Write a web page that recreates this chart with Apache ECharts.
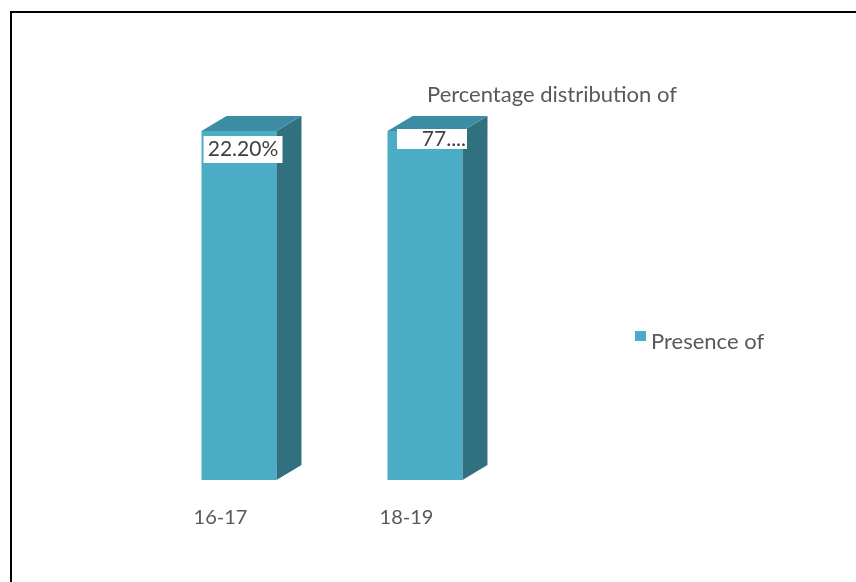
<!DOCTYPE html>
<html>
<head>
<meta charset="utf-8">
<script src="https://cdn.jsdelivr.net/npm/echarts@6/dist/echarts.min.js"></script>
<style>
html,body{margin:0;padding:0;background:#fff;}
#chart{width:856px;height:582px;}
</style>
</head>
<body>
<div id="chart"></div>
<script>
// ---- data ----
const categories = ['16-17', '18-19'];
const seriesName = 'Presence of';
const values = [22.2, 77.8];
const valueLabels = ['22.20%', '77....'];
const chartTitle = 'Percentage distribution of';
// value axis range (original axis max was below both values, so bars reach the top)
const Y_MIN = 0;
const Y_MAX = 20;

// ---- style ----
const FONT = 'Lato';
const FRONT = '#4BACC6';
const SIDE = '#31707F';
const TOP = '#3C8DA4';
const DEPTH_X = 25, DEPTH_Y = 15;
const labelBoxes = [
  {dx: 4, dy: 5, w: 79, h: 27, align: 'center'},
  {dx: 7, dy: -2, w: 70, h: 20, align: 'right'}
];

const chart = echarts.init(document.getElementById('chart'), null, {renderer: 'canvas'});

function renderItem(params, api) {
  const idx = api.value(0);
  const v = Math.min(api.value(1), Y_MAX);
  const base = api.coord([idx, Y_MIN]);
  const top = api.coord([idx, v]);
  const w = api.size([1, 0])[0] * 0.403;
  const cx = base[0];
  const x0 = cx - w / 2, x1 = cx + w / 2;
  const yb = base[1], yt = top[1];
  const lb = labelBoxes[params.dataIndex];
  const bx = cx + lb.dx - lb.w / 2;
  const by = yt + lb.dy;
  return {
    type: 'group',
    children: [
      {type: 'rect', shape: {x: x0, y: yt, width: w, height: yb - yt}, style: {fill: FRONT}},
      {type: 'polygon', shape: {points: [[x1, yb], [x1, yt], [x1 + DEPTH_X, yt - DEPTH_Y], [x1 + DEPTH_X, yb - DEPTH_Y]]}, style: {fill: SIDE}},
      {type: 'polygon', shape: {points: [[x0, yt], [x1, yt], [x1 + DEPTH_X, yt - DEPTH_Y], [x0 + DEPTH_X, yt - DEPTH_Y]]}, style: {fill: TOP}},
      {type: 'rect', shape: {x: bx, y: by, width: lb.w, height: lb.h}, style: {fill: '#ffffff'}},
      {type: 'text', style: {
        text: valueLabels[params.dataIndex],
        x: lb.align === 'right' ? bx + lb.w - 1 : bx + lb.w / 2,
        y: by + lb.h / 2,
        align: lb.align, verticalAlign: 'middle',
        font: '21px ' + FONT, fill: '#404040'
      }}
    ]
  };
}

chart.setOption({
  animation: false,
  backgroundColor: '#ffffff',
  title: {
    text: chartTitle,
    left: 422, top: 79,
    textStyle: {fontFamily: FONT, fontSize: 22, fontWeight: 'normal', color: '#595959'}
  },
  legend: {
    left: 630, top: 326,
    itemWidth: 11, itemHeight: 10,
    icon: 'rect',
    itemGap: 0,
    data: [seriesName],
    formatter: name => '{t|' + name + '}',
    textStyle: {
      rich: {t: {fontFamily: FONT, fontSize: 22, color: '#595959', padding: [12, 0, 0, 0]}}
    }
  },
  grid: {left: 146, width: 372, top: 131, bottom: 102, containLabel: false},
  xAxis: {
    type: 'category',
    data: categories,
    axisLine: {show: false},
    axisTick: {show: false},
    axisLabel: {
      fontFamily: FONT, fontSize: 20, color: '#595959', margin: 28,
      padding: [0, 37, 0, 0]
    }
  },
  yAxis: {
    type: 'value', min: Y_MIN, max: Y_MAX,
    show: false,
    splitLine: {show: false}
  },
  series: [{
    name: seriesName,
    type: 'custom',
    renderItem: renderItem,
    itemStyle: {color: FRONT},
    encode: {x: 0, y: 1},
    data: values.map((v, i) => [i, v])
  }],
  graphic: [{
    type: 'polyline',
    shape: {points: [[11, 582], [11, 12], [856, 12]]},
    style: {stroke: '#000000', lineWidth: 2, fill: null}
  }]
});
</script>
</body>
</html>
